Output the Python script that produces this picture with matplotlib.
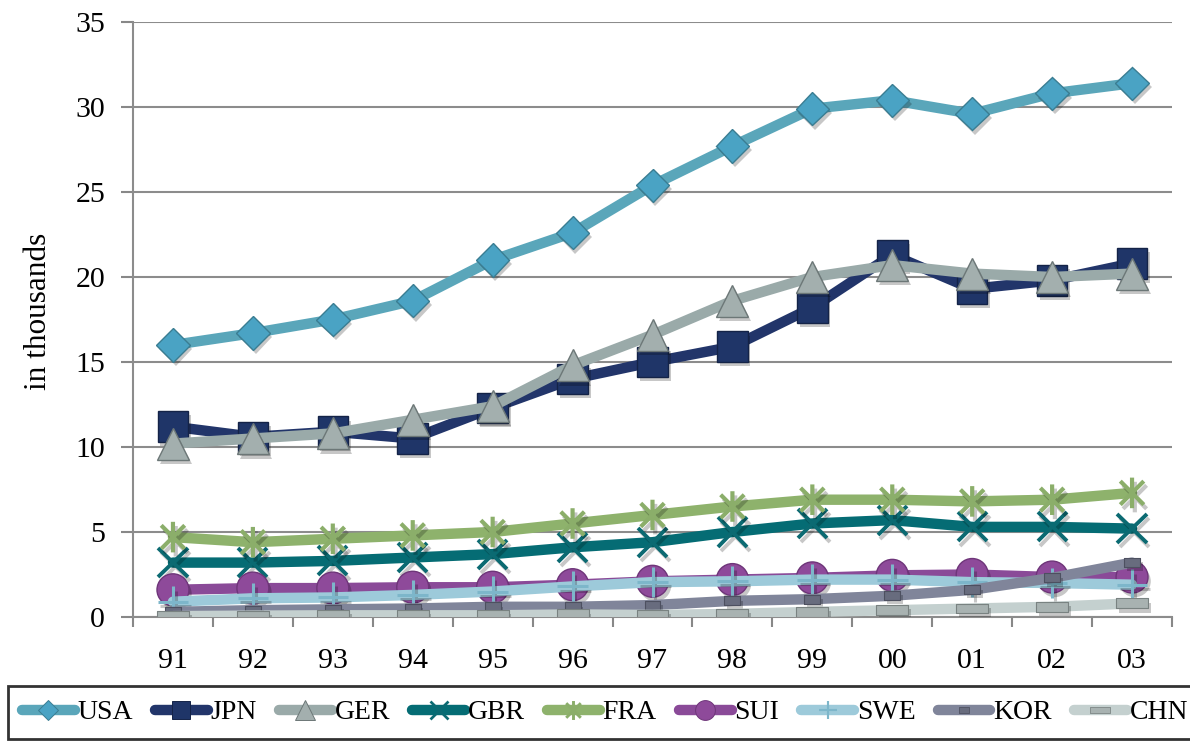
import matplotlib
matplotlib.use("Agg")
import matplotlib.pyplot as plt
import numpy as np
from matplotlib.path import Path
from matplotlib.lines import Line2D
import matplotlib.patheffects as pe

years = ["91", "92", "93", "94", "95", "96", "97", "98", "99", "00", "01", "02", "03"]

usa = [16.0, 16.7, 17.5, 18.6, 21.0, 22.6, 25.4, 27.7, 29.9, 30.4, 29.6, 30.8, 31.4]
jpn = [11.2, 10.6, 10.9, 10.5, 12.3, 14.0, 15.0, 15.9, 18.2, 21.3, 19.3, 19.8, 20.8]
ger = [10.2, 10.5, 10.8, 11.6, 12.4, 14.8, 16.6, 18.6, 20.0, 20.7, 20.2, 20.0, 20.2]
gbr = [3.2, 3.2, 3.3, 3.5, 3.7, 4.1, 4.4, 5.0, 5.5, 5.7, 5.3, 5.3, 5.2]
fra = [4.7, 4.4, 4.6, 4.8, 5.0, 5.5, 6.0, 6.5, 6.9, 6.9, 6.8, 6.9, 7.3]
sui = [1.6, 1.7, 1.7, 1.75, 1.75, 1.9, 2.1, 2.2, 2.3, 2.45, 2.5, 2.35, 2.35]
swe = [0.9, 1.1, 1.15, 1.3, 1.5, 1.8, 2.05, 2.1, 2.2, 2.2, 2.05, 2.0, 1.9]
kor = [0.3, 0.4, 0.45, 0.5, 0.6, 0.6, 0.7, 0.95, 1.05, 1.25, 1.6, 2.3, 3.2]
chn = [0.05, 0.08, 0.1, 0.1, 0.1, 0.15, 0.12, 0.18, 0.3, 0.4, 0.5, 0.6, 0.8]

names = ["USA", "JPN", "GER", "GBR", "FRA", "SUI", "SWE", "KOR", "CHN"]
series = [usa, jpn, ger, gbr, fra, sui, swe, kor, chn]

plt.rcParams['font.family'] = ['Liberation Serif', 'DejaVu Serif']

# custom markers
star_path = Path([(-1, -1), (1, 1), (-1, 1), (1, -1), (0, -1.3), (0, 1.3)],
                 [Path.MOVETO, Path.LINETO, Path.MOVETO, Path.LINETO, Path.MOVETO, Path.LINETO])
chn_rect = [(-1.6, -0.5), (1.6, -0.5), (1.6, 0.5), (-1.6, 0.5), (-1.6, -0.5)]
kor_rect = [(-0.9, -0.5), (0.9, -0.5), (0.9, 0.5), (-0.9, 0.5), (-0.9, -0.5)]

styles = {
    "USA": dict(color="#5AA6BA", marker="D", ms=17, mfc="#4AA3C4", mec="#3A7D92", mew=1.0, filled=True),
    "JPN": dict(color="#22356A", marker="s", ms=22, mfc="#1F3568", mec="#142347", mew=1.0, filled=True),
    "GER": dict(color="#9AAAA9", marker="^", ms=23, mfc="#A3AFAE", mec="#6C7777", mew=1.0, filled=True),
    "GBR": dict(color="#056C74", marker="x", ms=21, mfc="#0B6A72", mec="#0B6A72", mew=2.8, filled=False),
    "FRA": dict(color="#8EB26C", marker=star_path, ms=22, mfc="#8BAE6A", mec="#8BAE6A", mew=3.0, filled=False),
    "SUI": dict(color="#8A4A98", marker="o", ms=23, mfc="#8E4A9A", mec="#6E3579", mew=1.0, filled=True),
    "SWE": dict(color="#9DCADA", marker="+", ms=22, mfc="#86BFD3", mec="#7DB6CA", mew=2.2, filled=False),
    "KOR": dict(color="#80859A", marker=kor_rect, ms=11.5, mfc="#686C7E", mec="#4D5060", mew=0.8, filled=True),
    "CHN": dict(color="#C4D0CF", marker=chn_rect, ms=23, mfc="#A8B2B1", mec="#798281", mew=0.8, filled=True),
}

fig = plt.figure(figsize=(11.9, 7.46), dpi=100)
ax = fig.add_axes([133 / 1190, 1 - 617 / 746, (1172 - 133) / 1190, (617 - 22) / 746])

x = np.arange(len(years))
handles = []
for i, (name, vals) in enumerate(zip(names, series)):
    st = styles[name]
    z = 3 + i * 0.1
    ax.plot(x, vals, color=st["color"], lw=7.5, solid_joinstyle="round",
            solid_capstyle="round", zorder=z)
    if st["filled"]:
        effects = [pe.SimplePatchShadow(offset=(2, -3), shadow_rgbFace="black", alpha=0.22), pe.Normal()]
    else:
        effects = [pe.SimpleLineShadow(offset=(2, -3), shadow_color="black", alpha=0.22), pe.Normal()]
    ax.plot(x, vals, ls="none", marker=st["marker"], ms=st["ms"], mfc=st["mfc"],
            mec=st["mec"], mew=st["mew"], zorder=z + 0.05, path_effects=effects)
    handles.append(Line2D([], [], color=st["color"], lw=7.5, solid_capstyle="round",
                          marker=st["marker"], ms=st["ms"] * 0.62, mfc=st["mfc"],
                          mec=st["mec"], mew=st["mew"] * 0.7, label=name))

ax.set_xlim(-0.5, len(years) - 0.5)
ax.set_ylim(0, 35)
ax.set_yticks(np.arange(0, 36, 5))
ax.set_xticks(x)
ax.set_xticklabels(years)
ax.set_xticks(np.arange(-0.5, len(years), 1.0), minor=True)
ax.tick_params(axis="x", which="major", length=0, pad=22, labelsize=21.5)
ax.tick_params(axis="x", which="minor", length=7, width=1.5, color="#888888", direction="out")
ax.tick_params(axis="y", which="major", length=9, width=1.5, color="#888888", pad=11, labelsize=21.5)
ax.grid(axis="y", color="#8C8C8C", lw=1.5)
ax.set_axisbelow(True)
for s in ["top", "right"]:
    ax.spines[s].set_visible(False)
for s in ["left", "bottom"]:
    ax.spines[s].set_color("#8C8C8C")
    ax.spines[s].set_linewidth(1.5)

ax.set_ylabel("in thousands", fontsize=22.5)
ax.yaxis.set_label_coords(-0.077, 0.513)

leg = fig.legend(handles=handles, loc="upper left",
                 bbox_to_anchor=(8 / 1190, 0, 1 - 8 / 1190 + 0.01, 1 - 686 / 746),
                 mode="expand", ncol=9, fontsize=20, frameon=True, fancybox=False,
                 edgecolor="black", handlelength=1.9, handletextpad=0.1, columnspacing=0.3,
                 borderpad=0.5, borderaxespad=0)
leg.get_frame().set_linewidth(2)

fig.savefig("out.png", dpi=100)
